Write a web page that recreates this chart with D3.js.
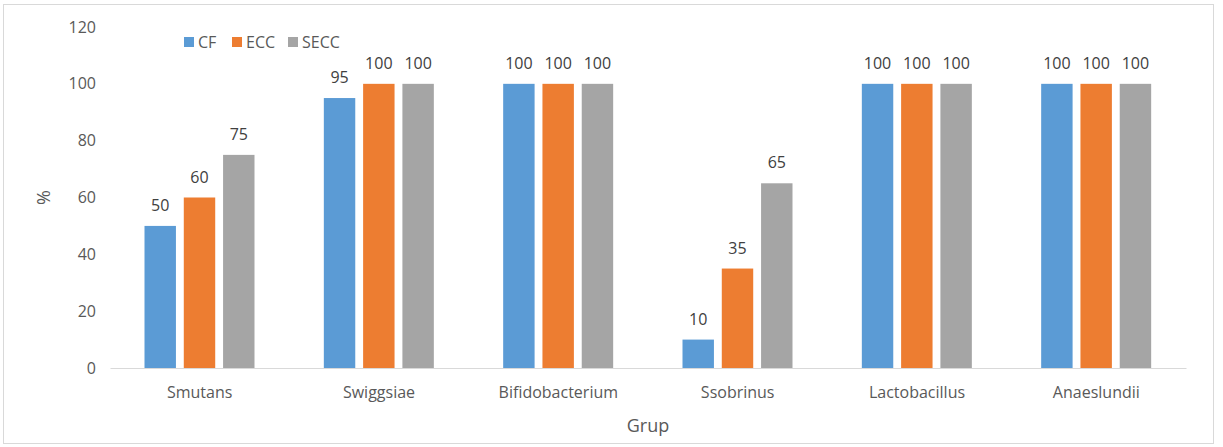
<!DOCTYPE html>
<html>
<head>
<meta charset="utf-8">
<script src="https://cdn.jsdelivr.net/npm/d3@7"></script>
<style>
  body { margin: 0; background: #fff; }
  text { font-family: 'Open Sans', 'Noto Sans', sans-serif; }
</style>
</head>
<body>
<div id="chart"></div>
<script>
// DATA
const categories = ['Smutans', 'Swiggsiae', 'Bifidobacterium', 'Ssobrinus', 'Lactobacillus', 'Anaeslundii']
const seriesNames = ['CF', 'ECC', 'SECC']
const cfValues = [50, 95, 100, 10, 100, 100]
const eccValues = [60, 100, 100, 35, 100, 100]
const seccValues = [75, 100, 100, 65, 100, 100]
const yTicks = [0, 20, 40, 60, 80, 100, 120]

const colors = { CF: '#5b9bd5', ECC: '#ed7d31', SECC: '#a5a5a5' }
const seriesValues = { CF: cfValues, ECC: eccValues, SECC: seccValues }

const settings = {
    width: 1223,
    height: 447,
    font: "'Open Sans', sans-serif",
    plot: { left: 110, right: 1186, top: 27, bottom: 368 }
}

const svg = d3.select('#chart').append('svg')
    .attr('width', settings.width)
    .attr('height', settings.height)

// frame
svg.append('rect')
    .attr('x', 3.5).attr('y', 4.5)
    .attr('width', 1210).attr('height', 439)
    .attr('fill', '#fff')
    .attr('stroke', '#d9d9d9')

const x0 = d3.scaleBand()
    .domain(categories)
    .range([settings.plot.left, settings.plot.right])

const x1 = d3.scaleBand()
    .domain(seriesNames)
    .range([34.5, 144.5])
    .paddingInner(0.2)

const y = d3.scaleLinear()
    .domain([0, 120])
    .range([settings.plot.bottom, settings.plot.top])

// y axis labels
const yAxis = d3.axisLeft(y).tickValues(yTicks).tickSize(0).tickPadding(14)
const yG = svg.append('g')
    .attr('transform', `translate(${settings.plot.left}, 0)`)
    .call(yAxis)
yG.select('.domain').remove()
yG.selectAll('text')
    .attr('font-size', 16)
    .attr('fill', '#595959')
    .style('font-family', settings.font)

// bars
const groups = svg.selectAll('.group')
    .data(categories)
    .enter().append('g')
    .attr('class', 'group')
    .attr('transform', d => `translate(${x0(d)}, 0)`)

groups.selectAll('rect')
    .data((c, i) => seriesNames.map(s => ({ series: s, value: seriesValues[s][i] })))
    .enter().append('rect')
    .attr('x', d => x1(d.series))
    .attr('width', x1.bandwidth())
    .attr('y', d => y(d.value))
    .attr('height', d => y(0) - y(d.value))
    .attr('fill', d => colors[d.series])

groups.selectAll('.value-label')
    .data((c, i) => seriesNames.map(s => ({ series: s, value: seriesValues[s][i] })))
    .enter().append('text')
    .attr('class', 'value-label')
    .attr('x', d => x1(d.series) + x1.bandwidth() / 2)
    .attr('y', d => y(d.value) - 15)
    .attr('text-anchor', 'middle')
    .attr('font-size', 16)
    .attr('fill', '#404040')
    .text(d => d.value)

// x axis
const xAxis = d3.axisBottom(x0).tickSize(0).tickPadding(19)
const xG = svg.append('g')
    .attr('transform', `translate(0, ${settings.plot.bottom})`)
    .call(xAxis)
xG.select('.domain').attr('stroke', '#d9d9d9').attr('stroke-width', 1.2)
xG.selectAll('text')
    .attr('font-size', 16)
    .attr('fill', '#595959')
    .style('font-family', settings.font)

// axis titles
svg.append('text')
    .attr('x', (settings.plot.left + settings.plot.right) / 2)
    .attr('y', 432)
    .attr('text-anchor', 'middle')
    .attr('font-size', 18)
    .attr('fill', '#595959')
    .text('Grup')

svg.append('text')
    .attr('transform', `translate(50, ${(settings.plot.top + settings.plot.bottom) / 2}) rotate(-90)`)
    .attr('text-anchor', 'middle')
    .attr('font-size', 18)
    .attr('fill', '#595959')
    .text('%')

// legend
const legendX = [184, 232, 288]
const legend = svg.selectAll('.legend')
    .data(seriesNames)
    .enter().append('g')
    .attr('class', 'legend')
    .attr('transform', (d, i) => `translate(${legendX[i]}, 37)`)
legend.append('rect')
    .attr('width', 10).attr('height', 10)
    .attr('fill', d => colors[d])
legend.append('text')
    .attr('x', 14).attr('y', 11)
    .attr('font-size', 16)
    .attr('fill', '#595959')
    .text(d => d)
</script>
</body>
</html>
